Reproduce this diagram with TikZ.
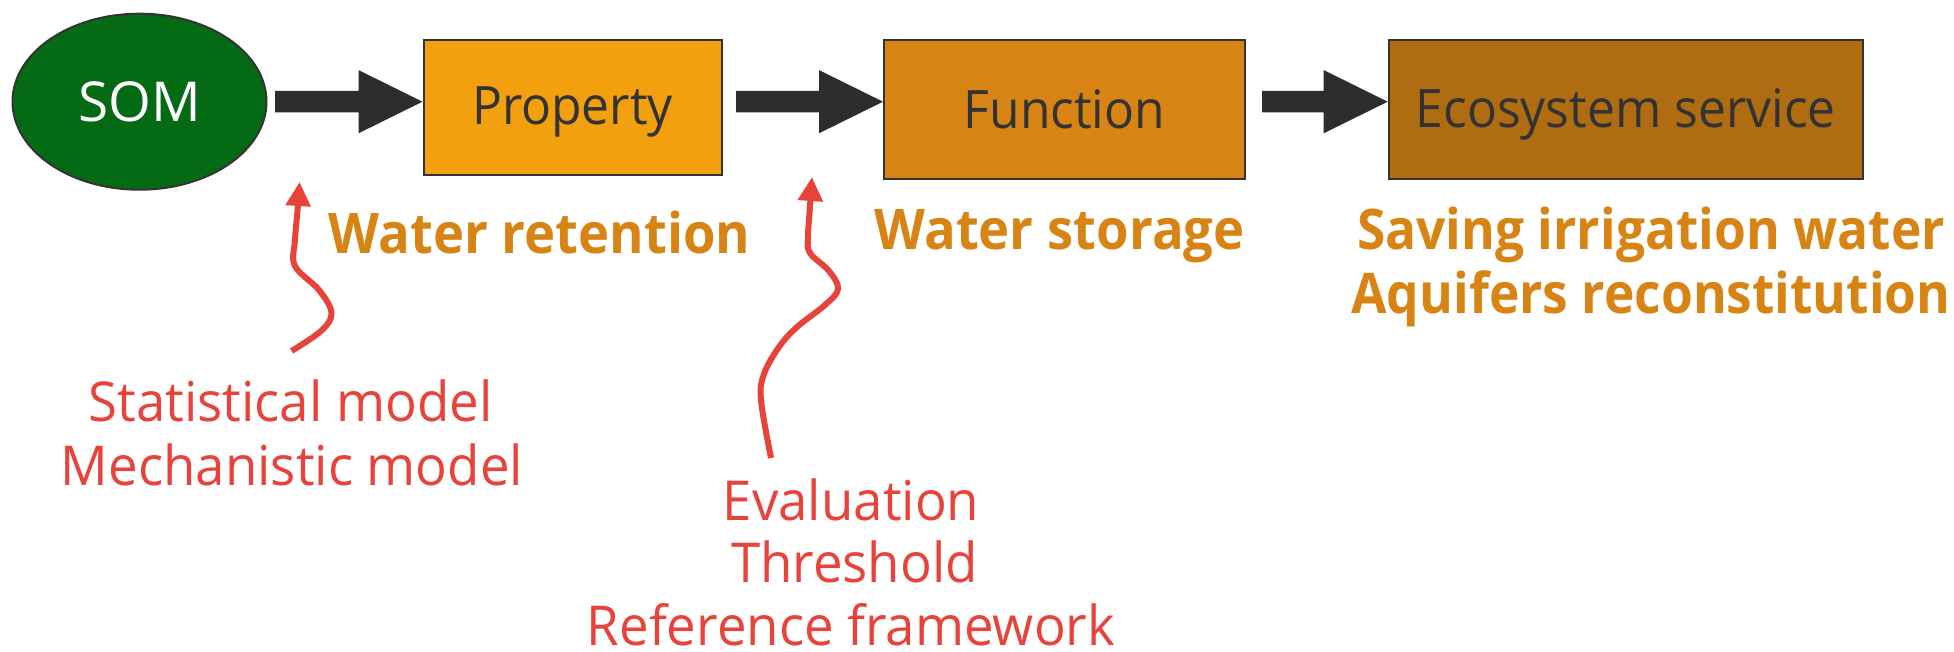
\documentclass[tikz,border=0pt]{standalone}
\usepackage{fontspec}
\setmainfont{Open Sans}
\newfontfamily\boxfont[FakeStretch=0.94]{Open Sans}
\newfontfamily\lblfont[FakeStretch=0.94]{Open Sans}
\newfontfamily\lblfontn[FakeStretch=0.92]{Open Sans}
\newfontfamily\redfont[FakeStretch=0.96]{Open Sans}
\usetikzlibrary{shapes.geometric,arrows.meta,calc}
\definecolor{somgreen}{HTML}{046A14}
\definecolor{propfill}{HTML}{F3A00F}
\definecolor{funcfill}{HTML}{D88415}
\definecolor{ecofill}{HTML}{B06C11}
\definecolor{orangetxt}{HTML}{D88415}
\definecolor{redtxt}{HTML}{E8433A}
\definecolor{darkarr}{HTML}{2D2D2D}
\definecolor{boxline}{HTML}{333333}
\newcommand{\blockarr}[2]{\fill[blockarrow] ($(#1)+(0,-10.8)$) -- ($(#2)+(-64,-10.8)$) -- ($(#2)+(-64,-31.6)$) -- (#2) -- ($(#2)+(-64,31.6)$) -- ($(#2)+(-64,10.8)$) -- ($(#1)+(0,10.8)$) -- cycle;}
\begin{document}
\begin{tikzpicture}[x=1pt,y=-1pt,
  box/.style={draw=boxline, line width=2pt, inner sep=0pt, text=boxline, text depth=0pt, font=\boxfont\fontsize{53}{60}\selectfont},
  orangelbl/.style={text=orangetxt, font=\lblfont\bfseries\fontsize{56}{64}\selectfont, inner sep=0pt, anchor=base},
  orangelbln/.style={text=orangetxt, font=\lblfontn\bfseries\fontsize{56}{64}\selectfont, inner sep=0pt, anchor=base},
  redlbl/.style={text=redtxt, font=\redfont\fontsize{55}{64}\selectfont, inner sep=0pt, anchor=base},
  blockarrow/.style={fill=darkarr},
  curly/.style={draw=redtxt, line width=6pt, -{Triangle[length=24pt,width=24pt]}}]
\useasboundingbox (0,0) rectangle (1954,652);

\node[ellipse, draw=boxline, line width=2pt, fill=somgreen, text=white, minimum width=254pt, minimum height=176pt, inner sep=0pt, text height=40pt, text depth=0pt, font=\fontsize{55}{60}\selectfont] (som) at (139.5,101.7) {SOM};
\node[box, fill=propfill, minimum width=298pt, minimum height=135pt, text height=35pt] (prop) at (572.5,107.5) {Property};
\node[box, fill=funcfill, minimum width=361pt, minimum height=139pt, text height=37.5pt] (func) at (1064.5,109.5) {Function};
\node[box, fill=ecofill, minimum width=474pt, minimum height=139pt, text height=37pt] (eco) at (1625.7,109.5) {Ecosystem service};

\coordinate (a1s) at ($(som.east)+(7.5,0)$);
\coordinate (a1e) at (prop.west |- a1s);
\coordinate (a2s) at ($(prop.east |- a1s)+(13.5,0)$);
\coordinate (a2e) at (func.west |- a1s);
\coordinate (a3s) at ($(func.east |- a1s)+(16,0)$);
\coordinate (a3e) at (eco.west |- a1s);
\blockarr{a1s}{a1e}
\blockarr{a2s}{a2e}
\blockarr{a3s}{a3e}

\node[orangelbl] (wret) at (539.5,254) {Water retention};
\node[orangelbl] (wsto) at (1059.5,250) {Water storage};
\node[orangelbln] (sav) at (1651,250) {Saving irrigation water};
\node[orangelbln] (aqu) at (1651,313) {Aquifers reconstitution};

\node[redlbl] (stat) at (290.5,421) {Statistical model};
\node[redlbl] (mech) at (292,485) {Mechanistic model};
\node[redlbl] (eval) at (851,520) {Evaluation};
\node[redlbl] (thr) at (854.5,582) {Threshold};
\node[redlbl, text depth=0pt] (ref) at (851,645) {Reference framework};

\coordinate (tailA) at (291.5,351);
\coordinate (tipA) at (299.6,182);
\coordinate (tailB) at (771,458);
\coordinate (tipB) at (812,177);
\draw[curly] plot[smooth, tension=0.6] coordinates {(tailA) (321,331) (331.5,313) (319,290) (295,266) (295,240) (298,205) (tipA)};
\draw[curly] plot[smooth, tension=0.6] coordinates {(tailB) (761,400) (764,374) (779,347) (797,327) (825,305) (838,289) (829,271) (810,253) (808,237) (810,206) (tipB)};
\end{tikzpicture}
\end{document}
